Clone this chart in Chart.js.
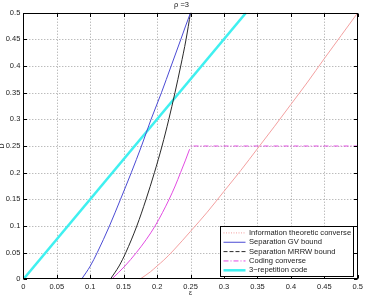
<!DOCTYPE html>
<html><head><meta charset="utf-8">
<script src="https://cdn.jsdelivr.net/npm/chart.js@4/dist/chart.umd.min.js"></script>
<style>html,body{margin:0;padding:0;background:#fff}#wrap{width:366px;height:295px}</style>
</head><body><div id="wrap"><canvas id="c" width="366" height="295"></canvas></div>
<script>
// ---- text ----
const chartTitle = 'ρ =3';
const xTitle = 'ε';
const yTitle = 'D';
const xTickLabels = ['0','0.05','0.1','0.15','0.2','0.25','0.3','0.35','0.4','0.45','0.5'];
const yTickLabels = ['0','0.05','0.1','0.15','0.2','0.25','0.3','0.35','0.4','0.45','0.5'];
const seriesNames = ['Information theoretic converse','Separation GV bound','Separation MRRW bound','Coding converse','3\u2212repetition code'];

// ---- series (x = ε, y = D) ----
const infoEps = [0.174,0.19,0.2,0.21,0.225,0.25,0.275,0.3,0.325,0.35,0.375,0.4,0.425,0.45,0.475,0.5];
const infoD   = [0,0.014,0.025,0.036,0.055,0.09,0.126,0.165,0.204,0.245,0.286,0.328,0.37,0.414,0.457,0.5];

const gvEps = [0.087,0.1002,0.1105,0.1288,0.1453,0.1614,0.1767,0.191,0.2065,0.221,0.2355,0.2426,0.25];
const gvD   = [0,0.025,0.05,0.1,0.15,0.2,0.25,0.3,0.35,0.4,0.45,0.475,0.5];

const mrrwEps = [0.13,0.1432,0.1532,0.1697,0.1835,0.196,0.2074,0.2175,0.2267,0.2353,0.2433,0.25];
const mrrwD   = [0,0.025,0.05,0.1,0.15,0.2,0.25,0.3,0.35,0.4,0.45,0.5];

// curved part of the coding converse, then its flat part
const codingCurveEps = [0.132,0.152,0.169,0.184,0.197,0.208,0.218,0.227,0.235,0.242,0.2486];
const codingCurveD   = [0,0.025,0.05,0.075,0.1,0.125,0.15,0.175,0.2,0.222,0.244];
const codingFlatEps  = [0.25,0.5];
const codingFlatD    = [0.25,0.25];

const repEps = [0,0.333];
const repD   = [0,0.5];

const pts = (xs, ys) => xs.map((x, i) => ({x, y: ys[i]}));

const FONT = '"Liberation Sans", Arial, Helvetica, sans-serif';
const MAGENTA = '#e24ce2';

const framePlugin = {
  id: 'frame',
  beforeDatasetsDraw(chart) {
    const {ctx, chartArea: a, scales: {x, y}} = chart;
    ctx.save();
    ctx.strokeStyle = '#a0a0a0';
    ctx.lineWidth = 1;
    ctx.setLineDash([1, 2]);
    x.ticks.forEach(t => {
      if (t.value <= x.min || t.value >= x.max) return;
      const px = Math.round(x.getPixelForValue(t.value)) + 0.5;
      ctx.beginPath(); ctx.moveTo(px, a.top); ctx.lineTo(px, a.bottom); ctx.stroke();
    });
    y.ticks.forEach(t => {
      if (t.value <= y.min || t.value >= y.max) return;
      const py = Math.round(y.getPixelForValue(t.value)) + 0.5;
      ctx.beginPath(); ctx.moveTo(a.left, py); ctx.lineTo(a.right, py); ctx.stroke();
    });
    ctx.restore();
  },
  afterDatasetsDraw(chart) {
    const {ctx, chartArea: a, scales: {x, y}} = chart;
    ctx.save();
    ctx.strokeStyle = '#000';
    ctx.lineWidth = 1;
    ctx.setLineDash([]);
    const L = Math.round(a.left) + 0.5, R = Math.round(a.right) - 0.5;
    const T = Math.round(a.top) + 0.5, B = Math.round(a.bottom) - 0.5;
    ctx.strokeRect(L, T, R - L, B - T);
    const tl = 3.5;
    ctx.beginPath();
    x.ticks.forEach(t => {
      const px = Math.round(x.getPixelForValue(t.value)) + 0.5;
      ctx.moveTo(px, B); ctx.lineTo(px, B - tl);
      ctx.moveTo(px, T); ctx.lineTo(px, T + tl);
    });
    y.ticks.forEach(t => {
      const py = Math.round(y.getPixelForValue(t.value)) + 0.5;
      ctx.moveTo(L, py); ctx.lineTo(L + tl, py);
      ctx.moveTo(R, py); ctx.lineTo(R - tl, py);
    });
    ctx.stroke();
    ctx.restore();
  }
};

const legendPlugin = {
  id: 'boxLegend',
  afterDraw(chart) {
    const {ctx, chartArea: a} = chart;
    const w = 133, h = 50;
    const x0 = Math.round(a.right - 5 - w) + 0.5, y0 = Math.round(a.bottom - 3 - h) + 0.5;
    ctx.save();
    ctx.fillStyle = '#fff'; ctx.fillRect(x0, y0, w, h);
    ctx.strokeStyle = '#000'; ctx.lineWidth = 1; ctx.setLineDash([]);
    ctx.strokeRect(x0, y0, w, h);
    ctx.font = '7.6px ' + FONT;
    ctx.textBaseline = 'middle';
    ctx.textAlign = 'left';
    chart.data.datasets.filter(ds => !ds.noLegend).forEach((ds, i) => {
      const yy = y0 + 6.4 + i * 9.35;
      ctx.strokeStyle = ds.borderColor;
      ctx.lineWidth = ds.borderWidth;
      ctx.setLineDash(ds.legendDash || []);
      ctx.beginPath(); ctx.moveTo(x0 + 3, yy); ctx.lineTo(x0 + 25, yy); ctx.stroke();
      ctx.setLineDash([]);
      ctx.fillStyle = '#222';
      ctx.fillText(ds.label, x0 + 28.5, yy);
    });
    ctx.restore();
  }
};

new Chart(document.getElementById('c'), {
  type: 'scatter',
  data: {
    datasets: [
      { label: seriesNames[0], data: pts(infoEps, infoD), borderColor: '#f3a0a0', borderWidth: 1,
        legendDash: [1, 1.5], cubicInterpolationMode: 'monotone' },
      { label: seriesNames[1], data: pts(gvEps, gvD), borderColor: '#4b4bd4', borderWidth: 1,
        cubicInterpolationMode: 'monotone' },
      { label: seriesNames[2], data: pts(mrrwEps, mrrwD), borderColor: '#2a2a2a', borderWidth: 1,
        legendDash: [4, 2], cubicInterpolationMode: 'monotone' },
      { label: seriesNames[3], data: pts(codingCurveEps, codingCurveD), borderColor: MAGENTA, borderWidth: 1,
        legendDash: [5, 2, 1, 2], cubicInterpolationMode: 'monotone' },
      { label: seriesNames[4], data: pts(repEps, repD), borderColor: '#3ff0f0', borderWidth: 2.5 },
      { label: seriesNames[3], noLegend: true, data: pts(codingFlatEps, codingFlatD), borderColor: MAGENTA,
        borderWidth: 1, borderDash: [5, 2, 1, 2], borderDashOffset: -3 }
    ].map(d => Object.assign({ showLine: true, pointRadius: 0, pointHoverRadius: 0, fill: false, tension: 0 }, d))
  },
  options: {
    responsive: false,
    animation: false,
    events: [],
    layout: { autoPadding: false, padding: { left: 0, right: 3, top: 0, bottom: 0 } },
    plugins: {
      legend: { display: false },
      tooltip: { enabled: false },
      title: { display: true, text: chartTitle, color: '#222',
        font: { family: FONT, size: 7.5, weight: 'normal', lineHeight: 1.2 },
        padding: { top: 0.5, bottom: 3.2 } }
    },
    scales: {
      x: {
        type: 'linear', min: 0, max: 0.5,
        afterFit: s => { s.height = 15.7; },
        grid: { display: false, drawTicks: false },
        border: { display: false },
        ticks: { stepSize: 0.05, autoSkip: false, maxRotation: 0, padding: 3, color: '#222',
          font: { family: FONT, size: 7.5 },
          callback: (v, i) => xTickLabels[i] },
        title: { display: true, text: xTitle, color: '#222', padding: { top: 0, bottom: -1.5 },
          font: { family: FONT, size: 7, lineHeight: 1 } }
      },
      y: {
        type: 'linear', min: 0, max: 0.5,
        afterFit: s => { s.width = 23.3; },
        grid: { display: false, drawTicks: false },
        border: { display: false },
        ticks: { stepSize: 0.05, autoSkip: false, padding: 3, color: '#222',
          font: { family: FONT, size: 7.5 },
          callback: (v, i) => yTickLabels[i] },
        title: { display: true, text: yTitle, color: '#222', padding: { top: -1, bottom: 0 },
          font: { family: FONT, size: 7, lineHeight: 1 } }
      }
    }
  },
  plugins: [framePlugin, legendPlugin]
});
</script>
</body></html>
